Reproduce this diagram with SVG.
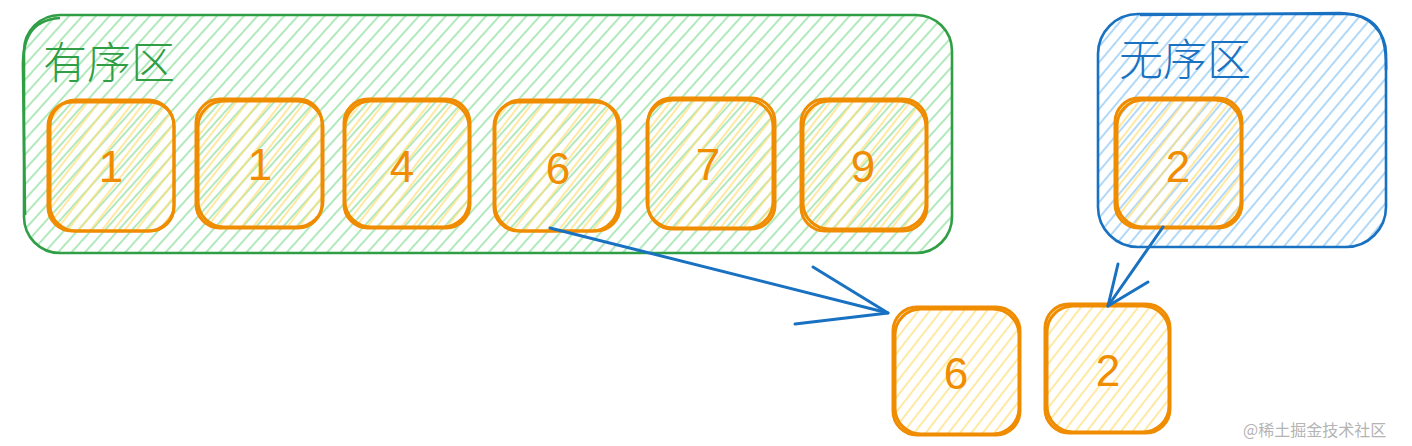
<svg xmlns="http://www.w3.org/2000/svg" width="1412" height="446" viewBox="0 0 1412 446">
<defs>
<pattern id="hG" width="10" height="10" patternUnits="userSpaceOnUse" patternTransform="rotate(42)">
<line x1="2" y1="0" x2="2" y2="10" stroke="#8fe0a0" stroke-width="1.4"/>
</pattern>
<pattern id="hB" width="10" height="10" patternUnits="userSpaceOnUse" patternTransform="rotate(40)">
<line x1="2" y1="0" x2="2" y2="10" stroke="#8ec8f5" stroke-width="1.4"/>
</pattern>
<pattern id="hY" width="9" height="9" patternUnits="userSpaceOnUse" patternTransform="rotate(38)">
<line x1="6" y1="0" x2="6" y2="9" stroke="#ffe07a" stroke-width="1.4"/>
</pattern>
</defs>
<style>
.gbox{fill:none;stroke:#2f9e44;stroke-width:2.6}
.bbox{fill:none;stroke:#1971c2;stroke-width:2.6}
.obox{fill:none;stroke:#f08c00;stroke-width:3}
.ofill{fill:url(#hY)}
.lbl{font-family:"Noto Sans CJK SC","Noto Sans",sans-serif;font-size:44px;font-weight:300}
.num{font-family:"Liberation Sans","Noto Sans",sans-serif;font-size:44px;fill:#f08c00;text-anchor:middle}
.arr{fill:none;stroke:#1971c2;stroke-width:3;stroke-linecap:round;stroke-linejoin:round}
.wm{font-family:"Noto Sans CJK SC","Noto Sans",sans-serif;font-size:16px;fill:#b4b4b4}
</style>
<rect width="1412" height="446" fill="#ffffff"/>

<g id="ordered-zone">
<rect x="24" y="15" width="928" height="238" rx="36" fill="url(#hG)"/>
<rect x="24" y="15" width="928" height="238" rx="36" class="gbox"/>
<path d="M60 18 C30 20 22 40 23 70 L25 215" class="gbox" stroke-width="1.6"/>
<text x="43" y="79" class="lbl" fill="#2f9e44">有序区</text>
</g>

<g id="unordered-zone">
<rect x="1098" y="14" width="288" height="233" rx="40" fill="url(#hB)"/>
<rect x="1098" y="14" width="288" height="233" rx="40" class="bbox"/>
<path d="M1140 15 L1340 13 C1375 14 1387 30 1386 70" class="bbox" stroke-width="1.6"/>
<text x="1119" y="76" class="lbl" fill="#1971c2">无序区</text>
</g>

<g id="box-1">
<rect x="48" y="102" width="126" height="129" rx="24" class="ofill"/>
<rect x="48" y="102" width="126" height="129" rx="24" class="obox"/>
<rect x="50" y="100" width="124" height="131" rx="26" class="obox" stroke-width="1.5"/>
<text x="111" y="182" class="num">1</text>
</g>
<g id="box-2">
<rect x="196" y="99" width="126" height="129" rx="24" class="ofill"/>
<rect x="196" y="99" width="126" height="129" rx="24" class="obox"/>
<rect x="198" y="101" width="125" height="126" rx="26" class="obox" stroke-width="1.5"/>
<text x="260" y="180" class="num">1</text>
</g>
<g id="box-3">
<rect x="344" y="99" width="126" height="129" rx="24" class="ofill"/>
<rect x="344" y="99" width="126" height="129" rx="24" class="obox"/>
<rect x="345" y="101" width="124" height="126" rx="26" class="obox" stroke-width="1.5"/>
<text x="402" y="182" class="num">4</text>
</g>
<g id="box-4">
<rect x="494" y="102" width="126" height="129" rx="24" class="ofill"/>
<rect x="494" y="102" width="126" height="129" rx="24" class="obox"/>
<rect x="495" y="100" width="123" height="131" rx="26" class="obox" stroke-width="1.5"/>
<text x="558" y="184" class="num">6</text>
</g>
<g id="box-5">
<rect x="648" y="98" width="127" height="131" rx="24" class="ofill"/>
<rect x="648" y="98" width="127" height="131" rx="24" class="obox"/>
<rect x="647" y="100" width="126" height="128" rx="26" class="obox" stroke-width="1.5"/>
<text x="708" y="180" class="num">7</text>
</g>
<g id="box-6">
<rect x="801" y="99" width="126" height="132" rx="24" class="ofill"/>
<rect x="801" y="99" width="126" height="132" rx="24" class="obox"/>
<rect x="803" y="101" width="123" height="128" rx="26" class="obox" stroke-width="1.5"/>
<text x="863" y="182" class="num">9</text>
</g>
<g id="box-u2">
<rect x="1115" y="98" width="127" height="130" rx="24" class="ofill"/>
<rect x="1115" y="98" width="127" height="130" rx="24" class="obox"/>
<rect x="1117" y="100" width="124" height="127" rx="26" class="obox" stroke-width="1.5"/>
<text x="1178" y="182" class="num">2</text>
</g>
<g id="box-b6">
<rect x="893" y="307" width="127" height="128" rx="24" class="ofill"/>
<rect x="893" y="307" width="127" height="128" rx="24" class="obox"/>
<rect x="895" y="309" width="124" height="125" rx="26" class="obox" stroke-width="1.5"/>
<text x="956" y="389" class="num">6</text>
</g>
<g id="box-b2">
<rect x="1045" y="304" width="125" height="129" rx="24" class="ofill"/>
<rect x="1045" y="304" width="125" height="129" rx="24" class="obox"/>
<rect x="1047" y="306" width="122" height="126" rx="26" class="obox" stroke-width="1.5"/>
<text x="1108" y="386" class="num">2</text>
</g>

<g id="connectors">
<path d="M550 228 L888 313" class="arr"/>
<path d="M813 267 L888 313 L795 324" class="arr"/>
<path d="M1163 227 L1108 306" class="arr"/>
<path d="M1118 264 L1108 306 L1148 282" class="arr"/>
</g>

<text x="1243" y="436" class="wm">@稀土掘金技术社区</text>
</svg>
